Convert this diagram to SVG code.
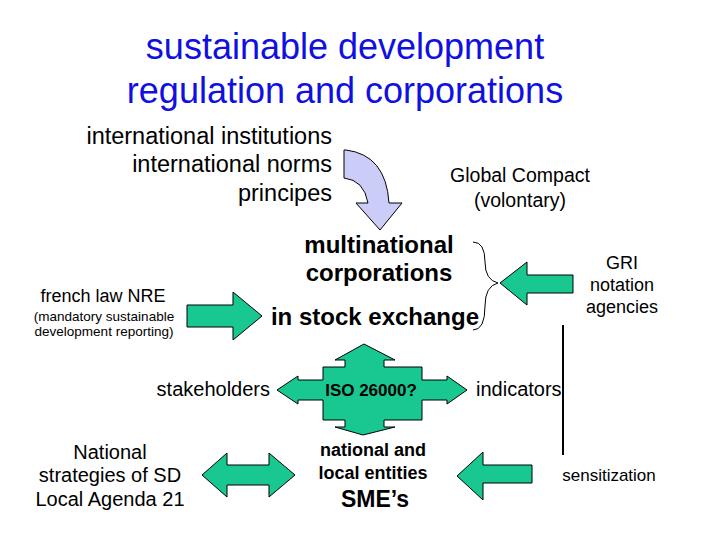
<svg xmlns="http://www.w3.org/2000/svg" width="720" height="540" viewBox="0 0 720 540">
<style>
text{font-family:"Liberation Sans",Arial,sans-serif;fill:#000}
.t{font-size:36px;fill:#1010e0}
.n{font-size:23.5px}
.b{font-size:24px;font-weight:bold}
.s{font-size:20px}
.g{fill:#18c890;stroke:#000;stroke-width:1}
</style>
<rect width="720" height="540" fill="#fff"/>
<g id="title"><text class="t" x="345" y="59" text-anchor="middle">sustainable development</text><text class="t" x="345" y="103" text-anchor="middle">regulation and corporations</text></g>
<g id="intl"><text class="n" x="332" y="144" text-anchor="end">international institutions</text><text class="n" x="332" y="172" text-anchor="end">international norms</text><text class="n" x="332" y="201" text-anchor="end">principes</text></g>
<g id="gc"><text x="520" y="182" text-anchor="middle" style="font-size:19.5px">Global Compact</text><text x="520" y="207" text-anchor="middle" style="font-size:19.5px">(volontary)</text></g>
<g id="mnc"><text class="b" x="379" y="253" text-anchor="middle">multinational</text><text class="b" x="379" y="281" text-anchor="middle">corporations</text><text class="b" x="375" y="325" text-anchor="middle">in stock exchange</text></g>
<g id="nre"><text x="103" y="302" text-anchor="middle" font-size="18">french law NRE</text><text x="104" y="321" text-anchor="middle" font-size="13.5">(mandatory sustainable</text><text x="104" y="336" text-anchor="middle" font-size="13.5">development reporting)</text></g>
<g id="gri"><text x="622" y="269" text-anchor="middle" font-size="18">GRI</text><text x="622" y="291" text-anchor="middle" font-size="18">notation</text><text x="622" y="313" text-anchor="middle" font-size="18">agencies</text></g>
<g id="stake"><text class="s" x="270" y="396" text-anchor="end">stakeholders</text></g>
<g id="ind"><text class="s" x="476" y="396">indicators</text></g>
<g id="sd"><text class="s" x="110" y="459" text-anchor="middle">National</text><text class="s" x="110" y="482" text-anchor="middle">strategies of SD</text><text class="s" x="110" y="506" text-anchor="middle">Local Agenda 21</text></g>
<g id="local"><text x="373" y="456" text-anchor="middle" style="font-size:18px;font-weight:bold">national and</text><text x="373" y="479" text-anchor="middle" style="font-size:18px;font-weight:bold">local entities</text><text x="375" y="507" text-anchor="middle" style="font-size:23px;font-weight:bold">SME’s</text></g>
<g id="sens"><text x="609" y="481" text-anchor="middle" font-size="17">sensitization</text></g>
<g id="connectors">
<path d="M344,150 L346,150 Q386,155 389,203 L402,203 L380,230 L356,203 L368,203 Q364,180 344,178 Z" fill="#ccccf8" stroke="#000" stroke-width="1"/>
<path class="g" d="M187,305 L233,305 L233,292 L262,316 L233,340 L233,327 L187,327 Z"/>
<path class="g" d="M573,275 L527,275 L527,262 L500,283 L527,305 L527,293 L573,293 Z"/>
<path d="M473,242 Q485,242 485,262 Q485,280 498,283 Q485,286 485,306 Q485,330 473,330" fill="none" stroke="#000" stroke-width="1"/>
<line x1="563" y1="325" x2="563" y2="455" stroke="#000" stroke-width="2"/>
<path class="g" d="M345,367 L345,360 L335,360 L364,344 L395,360 L384,360 L384,367 L422,367 L422,380 L447,380 L447,376 L467,390 L447,404 L447,400 L422,400 L422,420 L384,420 L384,427 L395,427 L363,435 L335,427 L345,427 L345,420 L323,420 L323,400 L298,400 L298,404 L277,390 L298,376 L298,380 L323,380 L323,367 Z"/>
<path class="g" d="M202,475 L227,453 L227,465 L269,465 L269,453 L295,475 L269,497 L269,485 L227,485 L227,497 Z"/>
<path class="g" d="M457,476 L483,452 L483,465 L532,465 L532,483 L483,483 L483,500 Z"/>
</g>
<text x="371" y="396" text-anchor="middle" font-size="17" font-weight="bold" font-family="Liberation Sans,sans-serif">ISO 26000?</text>
</svg>
